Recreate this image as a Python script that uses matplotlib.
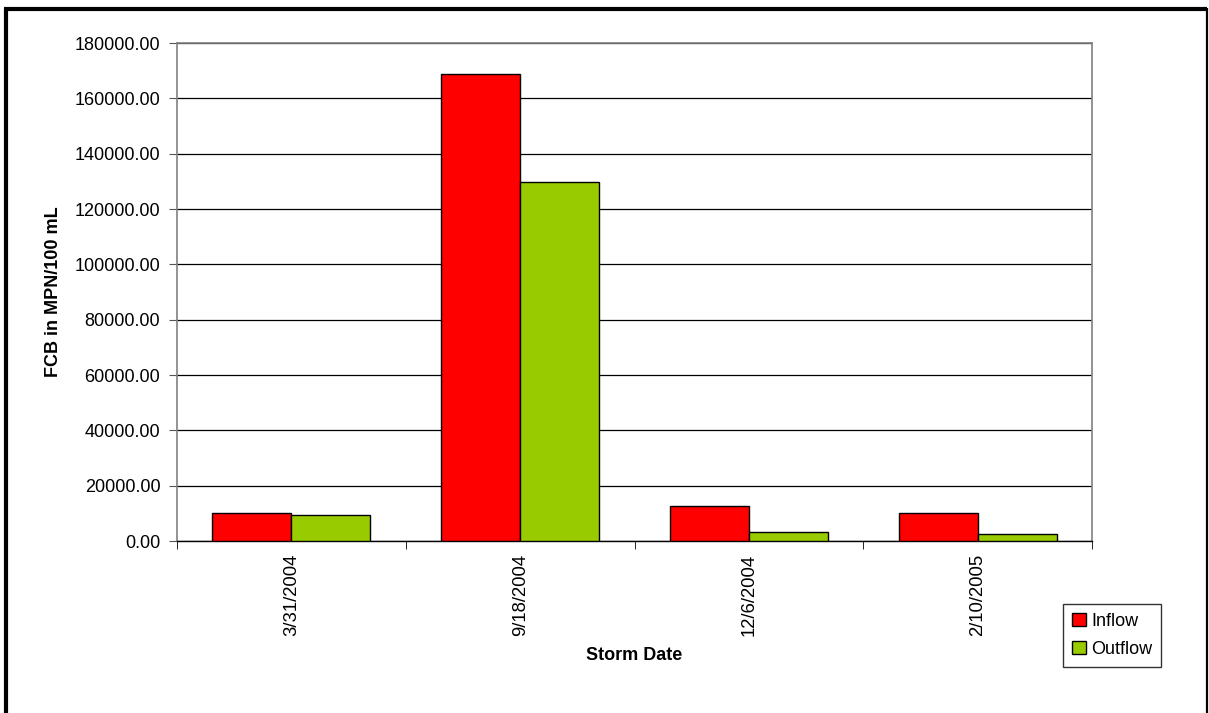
import matplotlib
matplotlib.use("Agg")
import matplotlib.pyplot as plt
from matplotlib.lines import Line2D
import numpy as np

plt.rcParams['font.family'] = ['Liberation Sans', 'DejaVu Sans']

# Storm event data: fecal coliform bacteria (MPN/100 mL)
storm_dates = ["3/31/2004", "9/18/2004", "12/6/2004", "2/10/2005"]
inflow = [10200, 168700, 12800, 10000]
outflow = [9500, 129900, 3100, 2400]
y_ticks = [0, 20000, 40000, 60000, 80000, 100000, 120000, 140000, 160000, 180000]

W, H = 1209, 713
fig = plt.figure(figsize=(W / 100, H / 100), dpi=100)
ax = fig.add_axes([177 / W, (H - 541) / H, (1092 - 177) / W, (541 - 43) / H])

x = np.arange(len(storm_dates))
bw = 0.345
ax.bar(x - bw / 2, inflow, bw, color="#FF0000", edgecolor="black", linewidth=1.0,
       label="Inflow", zorder=3)
ax.bar(x + bw / 2, outflow, bw, color="#99CC00", edgecolor="black", linewidth=1.0,
       label="Outflow", zorder=3)

ax.set_xlim(-0.5, len(storm_dates) - 0.5)
ax.set_ylim(0, 180000)
ax.set_yticks(y_ticks)
ax.set_yticklabels([f"{v:.2f}" for v in y_ticks], fontsize=13)
ax.yaxis.grid(True, color="black", linewidth=0.9, zorder=0)
ax.set_axisbelow(True)

# category labels centred, tick marks at group boundaries
ax.set_xticks(x)
ax.set_xticklabels(storm_dates, rotation=90, fontsize=13.3)
ax.tick_params(axis="x", which="major", length=0, pad=9)
ax.set_xticks(np.arange(-0.5, len(storm_dates)), minor=True)
ax.tick_params(axis="x", which="minor", length=6, direction="out", color="black")
ax.tick_params(axis="y", length=6, direction="out", color="#555555", pad=6)

for side in ("top", "right", "left"):
    ax.spines[side].set_color("#808080")
    ax.spines[side].set_linewidth(1.2)
ax.spines["bottom"].set_color("black")
ax.spines["bottom"].set_linewidth(1.0)

ax.set_xlabel("Storm Date", fontsize=13, fontweight="bold", labelpad=8)
ax.set_ylabel("FCB in MPN/100 mL", fontsize=13, fontweight="bold", labelpad=9)

leg = fig.legend(loc="upper left", bbox_to_anchor=(1063 / W, 1 - 604 / H),
                 frameon=True, fancybox=False, shadow=False, edgecolor="black",
                 fontsize=13, handlelength=0.75, handleheight=0.75, handletextpad=0.3,
                 borderpad=0.5, labelspacing=0.6, borderaxespad=0)
leg.get_frame().set_linewidth(1.0)

# outer chart frame
def px_line(x0, y0, x1, y1, lw):
    fig.add_artist(Line2D([x0 / W, x1 / W], [1 - y0 / H, 1 - y1 / H],
                          transform=fig.transFigure, color="black", linewidth=lw,
                          solid_capstyle="butt"))

px_line(6, 9, 6, H, 3.0)
px_line(4, 9, 1207, 9, 3.0)
px_line(1207, 7.5, 1207, H, 1.6)

fig.savefig("out.png", dpi=100, facecolor="white")
